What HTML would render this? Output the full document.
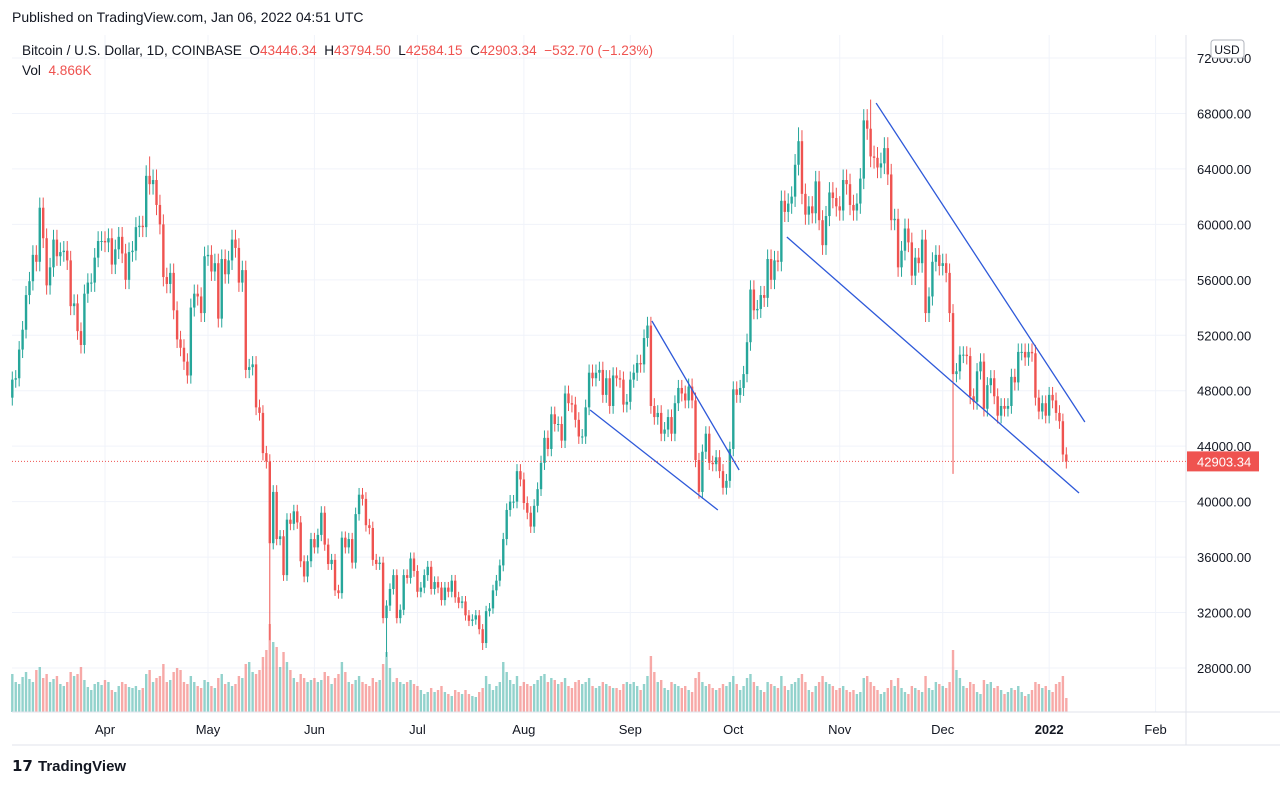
<!DOCTYPE html>
<html><head><meta charset="utf-8"><style>
body{margin:0;background:#fff;font-family:"Liberation Sans",sans-serif;}
svg{display:block}
</style></head><body>
<svg id="chart" width="1280" height="786" xmlns="http://www.w3.org/2000/svg" font-family="Liberation Sans, sans-serif">
<text x="12" y="22" font-size="14" fill="#131722">Published on TradingView.com, Jan 06, 2022 04:51 UTC</text>
<g id="grid"></g>
<g id="vol"></g>
<g id="candles"></g>
<g id="trend"></g>
<g id="axes"></g>
<text x="22" y="55" font-size="13.6" fill="#131722" xml:space="preserve">Bitcoin / U.S. Dollar, 1D, COINBASE  O<tspan fill="#ef5350">43446.34</tspan>  H<tspan fill="#ef5350">43794.50</tspan>  L<tspan fill="#ef5350">42584.15</tspan>  C<tspan fill="#ef5350">42903.34  −532.70 (−1.23%)</tspan></text>
<text x="22" y="75" font-size="13.6" fill="#131722" xml:space="preserve">Vol  <tspan fill="#ef5350">4.866K</tspan></text>
<g><rect x="1211" y="40" width="33" height="18" rx="3" fill="#fff" stroke="#b2b5be"/><text x="1227" y="54" font-size="12" text-anchor="middle" fill="#131722">USD</text></g>
<g><text x="12" y="771" font-size="15" font-weight="bold" fill="#131722">𝟭𝟳</text><text x="38" y="771" font-size="15" font-weight="bold" fill="#131722">TradingView</text></g>
</svg>
<script>
const closes=[48800,48900,50970,52400,54900,55900,57800,57300,61200,59000,55600,56900,58900,57700,58000,58100,57400,54100,54300,52300,51300,55000,55800,55800,57600,58800,58800,
58700,59000,57100,58200,59100,57900,56000,58000,58100,59800,59900,59800,63500,62900,63200,61400,60000,56200,55700,56500,53800,51700,51100,50100,49100,54000,55000,54800,53600,57700,
57800,56600,57200,53200,57500,56400,57400,58900,58300,55800,56700,49500,49700,49900,46800,46400,43500,42900,37000,40700,37300,37500,34700,38700,38400,39300,38500,35700,34600,35700,37300,
36700,37600,39200,36900,35500,35800,33600,33400,37400,36700,37300,35600,39100,40500,40200,38300,38100,35800,35500,35600,31600,32500,33700,34700,31600,32200,34700,34500,35900,35000,
33500,33800,34700,35300,33700,34200,33800,32900,33800,33500,34300,33100,32700,32800,31800,31400,31500,31800,30800,29800,32100,32300,33600,34300,35400,37300,39400,40000,40000,42200,41600,
39900,39200,38200,39700,40900,42800,44600,43800,46300,45600,45600,44400,47800,47100,47000,45900,44700,44700,46800,49300,48900,49300,49500,47700,48900,46900,49100,48900,48800,47000,47200,
48800,49300,50000,49900,51800,52700,46900,46100,46400,44900,45200,46100,44900,47100,48200,47800,47300,48300,47300,43000,40700,43600,44900,42800,42700,43200,42200,41000,41500,43800,
48100,47700,48200,49200,51500,55300,53800,53900,54900,54700,57500,56000,57400,57300,61700,60900,61500,62000,64300,66000,62200,60700,61300,60800,63100,60300,58500,60600,62300,61900,61300,
61000,63200,62900,61400,61000,61500,63300,67500,66900,64900,64800,64100,64400,65500,63600,60300,60400,56900,58100,59700,58700,56300,57600,57200,58900,53600,54800,57300,57800,57000,
57200,56500,53600,49200,49400,50600,50600,50500,47600,47200,49400,50100,46700,48400,48900,47600,46200,46900,46700,46900,49000,48600,50800,50800,50400,50800,50700,47500,46500,47100,46200,
47700,47300,46400,45800,43400,42903];
const volumes=[38,30,28,35,40,33,30,42,45,34,38,30,33,36,28,26,30,40,36,38,45,32,25,22,28,30,27,
32,30,22,20,26,30,28,25,24,26,22,24,38,42,30,34,36,48,30,32,40,44,42,30,28,36,30,26,24,32,
30,26,24,34,38,28,30,26,28,36,34,48,50,40,38,42,55,62,88,70,65,45,60,50,42,34,30,38,34,30,32,
34,30,32,40,36,28,34,38,50,40,30,28,32,36,30,28,26,34,30,32,48,60,44,30,34,30,28,30,32,28,
26,22,18,20,24,20,22,26,20,18,16,22,20,18,22,18,16,15,20,24,36,28,22,26,30,50,40,32,28,36,26,
30,28,26,28,32,36,38,30,34,32,28,30,34,26,24,30,32,28,30,34,26,24,26,30,28,26,24,24,22,28,30,
28,30,26,22,28,36,56,40,30,32,24,22,30,28,26,24,26,22,20,34,40,30,26,28,24,22,24,28,26,30,
36,28,22,26,34,38,30,26,22,20,30,28,26,24,36,26,22,28,30,34,38,30,22,20,26,30,36,30,28,26,22,
24,26,22,20,22,18,20,34,36,30,26,22,18,20,24,32,26,34,24,20,18,26,24,22,20,36,24,22,30,28,
26,24,30,62,42,34,26,24,30,28,20,18,32,28,30,24,26,22,18,20,24,22,26,20,16,18,22,30,28,24,26,
22,20,28,30,36,14];
const firstOpen=47500;
const extremeIdx=[40,75,137,109,186,229,250,274,8];
const extremeVal=[64900,30000,29300,28800,52900,67000,69000,42000,61800];
const priceTicks=[28000,32000,36000,40000,44000,48000,52000,56000,60000,64000,68000,72000];
const monthLabels=["Apr","May","Jun","Jul","Aug","Sep","Oct","Nov","Dec","2022","Feb"];
const monthDays=[0,30,61,91,122,153,183,214,244,275,306];
const trendA=[[224.6,68750],[159.3,53029],[141.3,46609],[198.6,59088]];
const trendB=[[285.4,45744],[184.7,42282],[178.5,39397],[283.7,40622]];
const startOffset=-27;
const lastPrice=42903.34;

const NS="http://www.w3.org/2000/svg";
const xDay=d=>105+d*3.4333;
const xIdx=i=>xDay(i+startOffset);
const yP=p=>668-(p-28000)*(610/44000);
const yV=v=>712-v;
function mk(tag,attrs,parent){const e=document.createElementNS(NS,tag);for(const k in attrs)e.setAttribute(k,attrs[k]);parent.appendChild(e);return e;}
const grid=document.getElementById('grid'),axes=document.getElementById('axes');
priceTicks.forEach(p=>{const l=mk('line',{x1:12,x2:1186,y1:yP(p),y2:yP(p),stroke:'#f0f3fa'},grid);


const t=mk('text',{x:1197,y:yP(p)+5,'font-size':13,fill:'#131722'},axes);t.textContent=p.toFixed(2);

});
monthLabels.forEach((m,k)=>{const x=xDay(monthDays[k]);const l=mk('line',{x1:x,x2:x,y1:35,y2:712,stroke:'#f0f3fa'},grid);


const t=mk('text',{x:x,y:734,'font-size':13,'text-anchor':'middle',fill:'#131722','font-weight':m==='2022'?'bold':'normal'},axes);t.textContent=m;

});
mk('line',{x1:1186,x2:1186,y1:35,y2:745,stroke:'#e0e3eb'},axes);
mk('line',{x1:12,x2:1280,y1:712,y2:712,stroke:'#e0e3eb'},axes);
mk('line',{x1:12,x2:1280,y1:745,y2:745,stroke:'#e0e3eb'},axes);
const cg=document.getElementById('candles'),vg=document.getElementById('vol');
let prev=firstOpen;
closes.forEach((c,i)=>{const o=prev;prev=c;const up=c>=o;const col=up?'#26a69a':'#ef5350';
let hi=Math.max(o,c)*1.012,lo=Math.min(o,c)*0.988;
extremeIdx.forEach((ix,k)=>{if(ix===i){if(extremeVal[k]>hi)hi=extremeVal[k];if(extremeVal[k]<lo)lo=extremeVal[k];}});
const x=xIdx(i);
const w=mk('line',{x1:x,x2:x,y1:yP(hi),y2:yP(lo),stroke:col,'stroke-width':1},cg);


const yt=yP(Math.max(o,c)),yb=yP(Math.min(o,c));
const b=mk('rect',{x:x-1.2,y:yt,width:2.4,height:Math.max(1,yb-yt),fill:col},cg);


const v=mk('rect',{x:x-1.2,y:yV(volumes[i]),width:2.4,height:volumes[i],fill:col,opacity:0.5},vg);

});
const tg=document.getElementById('trend');
trendA.forEach((a,k)=>{const b=trendB[k];const l=mk('line',{x1:xDay(a[0]),y1:yP(a[1]),x2:xDay(b[0]),y2:yP(b[1]),stroke:'#2e59d9','stroke-width':1.3},tg);

});
const pl=mk('line',{x1:12,x2:1186,y1:yP(lastPrice),y2:yP(lastPrice),stroke:'#ef5350','stroke-dasharray':'1 2'},axes);


const pr=mk('rect',{x:1187,y:yP(lastPrice)-10,width:72,height:20,fill:'#ef5350'},axes);


const pt=mk('text',{x:1197,y:yP(lastPrice)+5,'font-size':13,fill:'#fff'},axes);pt.textContent=lastPrice.toFixed(2);


</script>
</body></html>
